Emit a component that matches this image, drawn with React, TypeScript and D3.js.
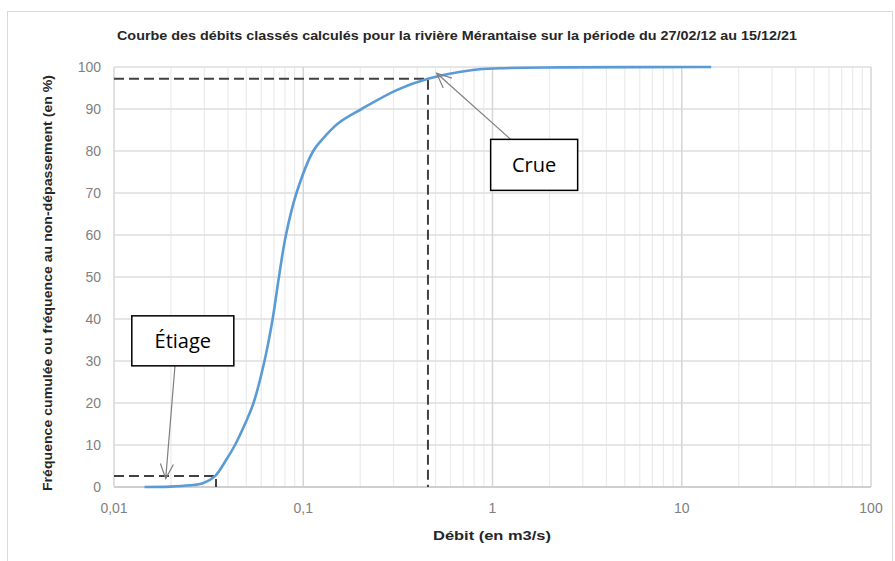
import React, { useEffect, useRef } from 'react'
import * as d3 from 'd3'

// debit (m3/s) / frequence au non-depassement (%)
const debits = [0.0145, 0.0198, 0.0252, 0.0295, 0.0342, 0.0386, 0.0436, 0.0492, 0.0546, 0.0624, 0.0689, 0.0744, 0.081, 0.0921, 0.1129, 0.1251, 0.1531, 0.2035, 0.3115, 0.456, 0.788, 1.094, 2.27, 14.3]
const frequences = [0, 0.1, 0.4, 0.9, 2.6, 6, 10, 15, 20, 30, 40, 50, 60, 70, 80, 82.6, 86.6, 90, 94.5, 97.2, 99.3, 99.7, 99.9, 100]

const yTicks = [0, 10, 20, 30, 40, 50, 60, 70, 80, 90, 100]
const xTicks = [0.01, 0.1, 1, 10, 100]
const xTickLabels = ['0,01', '0,1', '1', '10', '100']

// reperes (debit, frequence)
const etiage = { debit: 0.0346, freq: 2.6, label: 'Étiage', boxDebit: 0.0231, boxFreq: 34.8, fromDebit: 0.021, tipDebit: 0.01876, tipFreq: 2.0 }
const crue = { debit: 0.456, freq: 97.2, label: 'Crue', boxDebit: 1.66, boxFreq: 76.7, fromDebit: 1.247, tipDebit: 0.507, tipFreq: 98.5 }

const title = 'Courbe des débits classés calculés pour la rivière Mérantaise sur la période du 27/02/12 au 15/12/21'
const xTitle = 'Débit (en m3/s)'
const yTitle = 'Fréquence cumulée ou fréquence au non-dépassement (en %)'

const width = 895
const height = 561
const margin = { left: 114, right: 24, top: 67, bottom: 74 }
const font = "'Liberation Sans', Arial, sans-serif"

const App = () => {
    const svgRef = useRef<SVGSVGElement>(null)

    useEffect(() => {
        const svg = d3.select(svgRef.current)
        svg.selectAll('*').remove()

        const x = d3.scaleLog().domain([0.01, 100]).range([margin.left, width - margin.right])
        const y = d3.scaleLinear().domain([0, 100]).range([height - margin.bottom, margin.top])

        // outer frame
        svg.append('rect')
            .attr('x', 7.5).attr('y', 11.5).attr('width', 885).attr('height', 560)
            .attr('fill', '#fff').attr('stroke', '#d9d9d9')

        // title
        svg.append('text')
            .attr('x', 457).attr('y', 40)
            .attr('text-anchor', 'middle')
            .attr('font-family', font).attr('font-weight', 'bold').attr('font-size', 13.5)
            .attr('textLength', 680).attr('lengthAdjust', 'spacingAndGlyphs')
            .attr('fill', '#262626')
            .text(title)

        // vertical grid (minor then major)
        const minor: number[] = []
        for (let e = -2; e < 2; e++) {
            for (let k = 2; k <= 9; k++) minor.push(k * Math.pow(10, e))
        }
        svg.append('g').selectAll('line').data(minor).join('line')
            .attr('x1', (d) => x(d)).attr('x2', (d) => x(d))
            .attr('y1', y(0)).attr('y2', y(100))
            .attr('stroke', '#ebebeb').attr('stroke-width', 1.2)

        svg.append('g').selectAll('line').data(yTicks).join('line')
            .attr('x1', margin.left).attr('x2', width - margin.right)
            .attr('y1', (d) => y(d)).attr('y2', (d) => y(d))
            .attr('stroke', (d) => d === 0 ? '#bfbfbf' : '#dedede').attr('stroke-width', 1.5)

        svg.append('g').selectAll('line').data(xTicks).join('line')
            .attr('x1', (d) => x(d)).attr('x2', (d) => x(d))
            .attr('y1', y(0)).attr('y2', y(100))
            .attr('stroke', '#d6d6d6').attr('stroke-width', 1.5)

        // tick labels
        svg.append('g').selectAll('text').data(yTicks).join('text')
            .attr('x', margin.left - 13).attr('y', (d) => y(d) + 5)
            .attr('text-anchor', 'end')
            .attr('font-family', font).attr('font-size', 14).attr('fill', '#7f7f7f')
            .text((d) => d)

        svg.append('g').selectAll('text').data(xTicks).join('text')
            .attr('x', (d) => x(d)).attr('y', 513)
            .attr('text-anchor', 'middle')
            .attr('font-family', font).attr('font-size', 14).attr('fill', '#7f7f7f')
            .text((d, i) => xTickLabels[i])

        // axis titles
        svg.append('text')
            .attr('x', 492).attr('y', 540)
            .attr('text-anchor', 'middle')
            .attr('font-family', font).attr('font-weight', 'bold').attr('font-size', 13.5)
            .attr('textLength', 118).attr('lengthAdjust', 'spacingAndGlyphs')
            .attr('fill', '#262626')
            .text(xTitle)

        svg.append('text')
            .attr('transform', 'translate(52,283) rotate(-90)')
            .attr('text-anchor', 'middle')
            .attr('font-family', font).attr('font-weight', 'bold').attr('font-size', 13.5)
            .attr('textLength', 416).attr('lengthAdjust', 'spacingAndGlyphs')
            .attr('fill', '#262626')
            .text(yTitle)

        // dashed reference lines
        const dash = svg.append('g')
            .attr('fill', 'none').attr('stroke', '#404040').attr('stroke-width', 2)
            .attr('stroke-dasharray', '10,5')
        for (const r of [etiage, crue]) {
            dash.append('path')
                .attr('d', `M${x(0.01)},${y(r.freq)}H${x(r.debit)}V${y(0)}`)
        }

        // curve
        const line = d3.line<number>()
            .x((d) => x(d))
            .y((d, i) => y(frequences[i]))
            .curve(d3.curveCatmullRom.alpha(0.5))

        svg.append('path')
            .attr('d', line(debits))
            .attr('fill', 'none')
            .attr('stroke', '#5b9bd5')
            .attr('stroke-width', 2.6)

        // annotations
        const boxes = [
            { ...etiage, w: 102, h: 50, size: 20, fromY: 25 },
            { ...crue, w: 87, h: 51, size: 20, fromY: -25.5 },
        ]
        for (const b of boxes) {
            const cx = x(b.boxDebit)
            const cy = y(b.boxFreq)
            const x0 = x(b.fromDebit)
            const y0 = cy + b.fromY
            const tx = x(b.tipDebit)
            const ty = y(b.tipFreq)
            const ang = Math.atan2(ty - y0, tx - x0)
            const len = 16
            const spread = 0.42
            svg.append('line')
                .attr('x1', x0).attr('y1', y0).attr('x2', tx).attr('y2', ty)
                .attr('stroke', '#7f7f7f').attr('stroke-width', 1.2)
            svg.append('path')
                .attr('d', `M${tx - len * Math.cos(ang - spread)},${ty - len * Math.sin(ang - spread)}L${tx},${ty}L${tx - len * Math.cos(ang + spread)},${ty - len * Math.sin(ang + spread)}`)
                .attr('fill', 'none').attr('stroke', '#7f7f7f').attr('stroke-width', 1.2)
            svg.append('rect')
                .attr('x', cx - b.w / 2).attr('y', cy - b.h / 2)
                .attr('width', b.w).attr('height', b.h)
                .attr('fill', '#fff').attr('stroke', '#000').attr('stroke-width', 1.5)
            svg.append('text')
                .attr('x', cx).attr('y', cy + 7)
                .attr('text-anchor', 'middle')
                .attr('font-family', "'Open Sans', sans-serif").attr('font-size', b.size)
                .attr('fill', '#000')
                .text(b.label)
        }
    }, [])

    return (
        <svg ref={svgRef} width={width} height={height}
            style={{ position: 'fixed', left: 0, top: 0, background: '#fff' }} />
    )
}

export default App
